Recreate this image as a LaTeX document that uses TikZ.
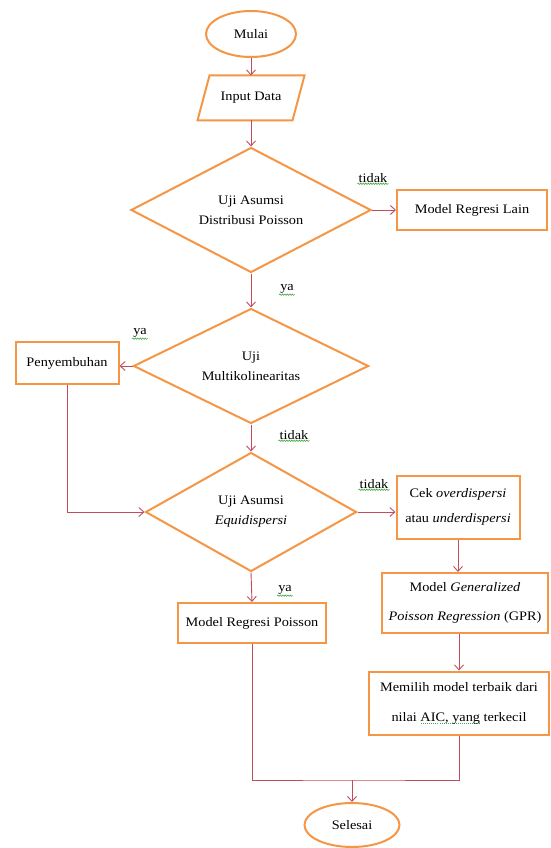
\documentclass[tikz,border=0pt]{standalone}
\usepackage{fontspec}
\setmainfont{Liberation Serif}[FakeStretch=1.1]
\usetikzlibrary{shapes.geometric,arrows.meta,decorations.pathmorphing}
\definecolor{shapeor}{RGB}{245,150,70}
\definecolor{arr}{RGB}{190,78,90}
\definecolor{sqc}{RGB}{70,170,70}
\newcommand\sqline[1]{\leavevmode\setbox0\hbox{#1}%
  \rlap{\color{sqc}\raisebox{-3pt}{\hbox to \wd0{\xleaders\hbox to 2pt{\hss\rule{1pt}{0.8pt}\hss}\hfill}}}\box0\relax}
\tikzset{
  shp/.style={draw=shapeor, line width=2pt, fill=white, inner sep=0pt, align=center,
    font=\fontsize{13}{20}\selectfont},
  box/.style={shp, rectangle},
  dia/.style={shp, diamond, aspect=2},
  term/.style={shp, ellipse},
  conn/.style={draw=arr, line width=0.9pt, -{Straight Barb[length=5pt,width=9pt]}},
  plain/.style={draw=arr, line width=0.9pt},
  lbl/.style={inner sep=1pt, font=\fontsize{13}{16}\selectfont},
  squig/.style={draw=sqc, line width=0.6pt, decorate, decoration={snake, amplitude=0.7pt, segment length=2.5pt}}
}
\begin{document}
\begin{tikzpicture}[x=1pt,y=-1pt]
\useasboundingbox[fill=white] (0,0) rectangle (550,848);

\node[term, minimum width=90pt, minimum height=46pt] (mulai) at (251,34) {Mulai};
\node[shp, draw=none, fill=none, minimum width=93pt, minimum height=43pt] (input) at (251,98) {Input Data};
\draw[draw=shapeor, line width=2pt, line join=miter]
  ([xshift=6pt]input.north west) -- ([xshift=6pt]input.north east) --
  ([xshift=-6pt]input.south east) -- ([xshift=-6pt]input.south west) -- cycle;
\node[dia, minimum width=240pt, minimum height=125pt] (d1) at (251,210) {Uji Asumsi\\Distribusi Poisson};
\node[box, minimum width=150pt, minimum height=40pt] (mrl) at (472,210) {Model Regresi Lain};
\node[dia, minimum width=235pt, minimum height=115pt] (d2) at (251,366) {Uji\\Multikolinearitas};
\node[box, minimum width=103pt, minimum height=42pt] (pen) at (67,363) {Penyembuhan};
\node[dia, minimum width=211pt, minimum height=119pt] (d3) at (251,512) {Uji Asumsi\\\textit{Equidispersi}};
\node[box, minimum width=123pt, minimum height=63pt] (cek) at (458,507) {Cek \textit{overdispersi}\\[5pt]atau \textit{underdispersi}};
\node[box, minimum width=148pt, minimum height=40pt] (mrp) at (252,623) {Model Regresi Poisson};
\node[box, minimum width=166pt, minimum height=60pt] (gpr) at (465,603) {Model \textit{Generalized}\\[9pt]\textit{Poisson Regression} (GPR)};
\node[box, minimum width=180pt, minimum height=63pt] (mem) at (459,703) {Memilih model terbaik dari\\[10pt]nilai \sqline{AIC, yang} terkecil};
\node[term, minimum width=95pt, minimum height=44pt] (sel) at (352,825) {Selesai};

\draw[conn] (mulai.south) -- (input.north);
\draw[conn] (input.south) -- (d1.north);
\draw[conn] (d1.east) -- (mrl.west);
\draw[conn] (d1.south) -- (d2.north);
\draw[conn] (d2.west) -- (d2.west -| pen.east);
\draw[conn] (d2.south) -- (d3.north);
\draw[conn] (pen.south) -- (pen.south |- d3.west) -- (d3.west);
\draw[conn] (d3.east) -- (d3.east -| cek.west);
\draw[conn] (d3.south) -- (mrp.north);
\draw[conn] (cek.south) -- (cek.south |- gpr.north);
\draw[conn] (mem.north |- gpr.south) -- (mem.north);
\coordinate (j) at (352,780);
\draw[plain] (mrp.south) |- (j) -| (mem.south);
\draw[conn] (j) -- (sel.north);

\node[lbl] (l1) at (373,178) {tidak};
\node[lbl] (l2) at (287,289) {ya};
\node[lbl] (l3) at (140,333) {ya};
\node[lbl] (l4) at (294,435) {tidak};
\node[lbl] (l5) at (374,484) {tidak};
\node[lbl] (l6) at (285,590) {ya};
\foreach \l in {l1,l2,l3,l4,l5,l6}
  \draw[squig] (\l.south west) -- (\l.south east);
\end{tikzpicture}
\end{document}
